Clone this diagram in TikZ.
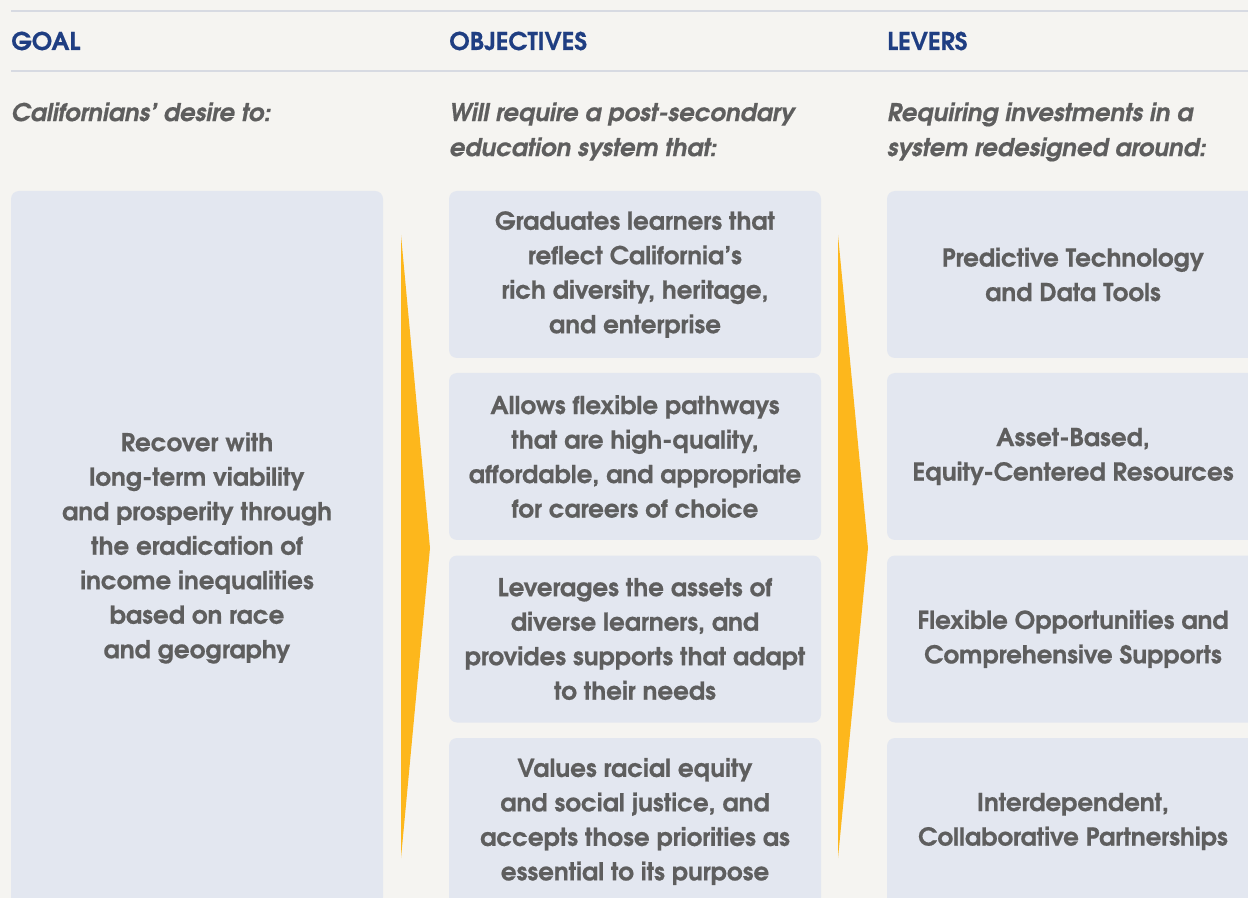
\documentclass[tikz,border=0pt]{standalone}
\usepackage{fontspec}
\setmainfont{texgyreadventor}[Extension=.otf, UprightFont=*-regular, BoldFont=*-bold, ItalicFont=*-italic, BoldItalicFont=*-bolditalic, BoldFeatures={FakeBold=0.6}, BoldItalicFeatures={FakeBold=0.6}]
\definecolor{bgcream}{HTML}{F5F4F1}
\definecolor{rulegray}{HTML}{D7DAE2}
\definecolor{boxblue}{HTML}{E3E7F0}
\definecolor{headblue}{HTML}{1F3E82}
\definecolor{textgray}{HTML}{5E5E5E}
\definecolor{arrowgold}{HTML}{FDB71C}
\tikzset{
  colhead/.style={anchor=base west, inner sep=0pt, text=headblue, font=\fontsize{12.2}{14}\selectfont\bfseries},
  colsub/.style={anchor=north west, inner sep=0pt, align=left, text=textgray, font=\fontsize{12.2}{17.5}\selectfont\bfseries\itshape},
  colbox/.style={fill=boxblue, rounded corners=4pt, minimum width=186pt, minimum height=83.5pt, inner sep=0pt, align=center, text=textgray, font=\fontsize{12.3}{17.25}\selectfont\bfseries},
  goalbox/.style={colbox, minimum height=357pt},
  flowarrow/.style={fill=arrowgold},
}
\begin{document}
\begin{tikzpicture}[x=0.5pt, y=-0.5pt]
\useasboundingbox (0,0) rectangle (1248,898);
\clip (0,0) rectangle (1248,898);
\fill[bgcream] (0,0) rectangle (1248,898);

% Header rules
\draw[rulegray, line width=1pt] (11,11) -- (1248,11);
\draw[rulegray, line width=1pt] (11,71.5) -- (1248,71.5);

% Column headings
\node[colhead] (goalhead) at (11,50) {GOAL};
\node[colhead] (objhead) at (449,50) {OBJECTIVES};
\node[colhead] (levhead) at (887,50) {LEVERS};

% Column intros
\node[colsub] (goalsub) at (11,102) {Californians’ desire to:};
\node[colsub] (objsub) at (449,102) {Will require a post-secondary\\education system that:};
\node[colsub] (levsub) at (887,102) {Requiring investments in a\\system redesigned around:};

% Goal
\node[goalbox] (goal) at (197,548) {Recover with\\long-term viability\\and prosperity through\\the eradication of\\income inequalities\\based on race\\and geography};

% Objectives
\node[colbox] (obj1) at (635,274.5) {Graduates learners that\\reflect California’s\\rich diversity, heritage,\\and enterprise};
\node[colbox] (obj2) at (635,456.5) {Allows flexible pathways\\that are high-quality,\\affordable, and appropriate\\for careers of choice};
\node[colbox] (obj3) at (635,639) {Leverages the assets of\\diverse learners, and\\provides supports that adapt\\to their needs};
\node[colbox] (obj4) at (635,821.5) {Values racial equity\\and social justice, and\\accepts those priorities as\\essential to its purpose};

% Levers
\node[colbox] (lev1) at (1073,274.5) {Predictive Technology\\and Data Tools};
\node[colbox] (lev2) at (1073,456.5) {Asset-Based,\\Equity-Centered Resources};
\node[colbox] (lev3) at (1073,639) {Flexible Opportunities and\\Comprehensive Supports};
\node[colbox] (lev4) at (1073,821.5) {Interdependent,\\Collaborative Partnerships};

% Arrows between columns
\fill[flowarrow] (401,235) -- (430,548) -- (401,858) -- cycle;
\fill[flowarrow] (838,235) -- (868,548) -- (838,858) -- cycle;
\end{tikzpicture}
\end{document}
